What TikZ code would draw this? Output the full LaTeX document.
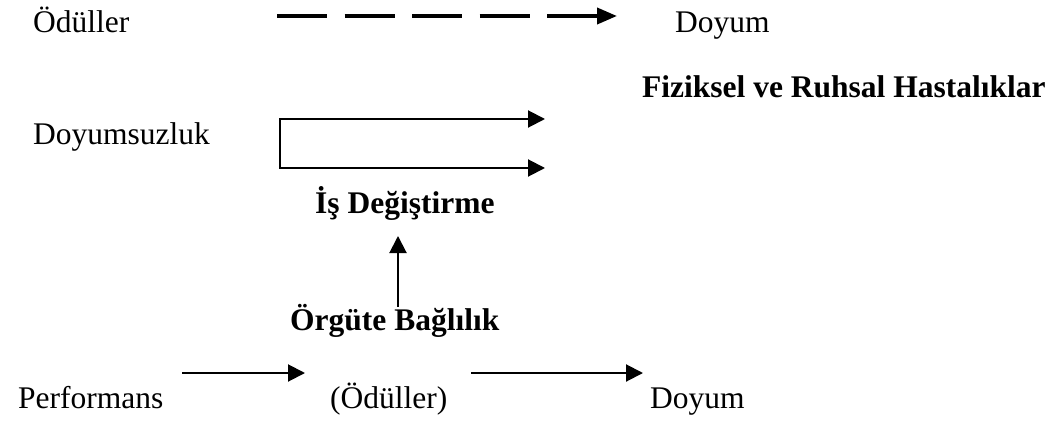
\documentclass[tikz,border=0pt]{standalone}
\usepackage{fontspec}
\setmainfont{Liberation Serif}
\usetikzlibrary{arrows.meta}
\begin{document}
\begin{tikzpicture}[x=1pt,y=-1pt,
  lbl/.style={anchor=base west,inner sep=0pt,font=\fontsize{31.5}{34}\selectfont},
  blbl/.style={anchor=base west,inner sep=0pt,font=\fontsize{31.5}{34}\selectfont\bfseries},
  tip/.style={Triangle[length=17pt,width=17pt]},
  arr/.style={line width=2pt,-{Triangle[length=17pt,width=17pt]}},
  darr/.style={line width=3.8pt,dash pattern=on 50pt off 17.5pt,-{Triangle[length=20pt,width=16pt]}}]
\useasboundingbox (0,0) rectangle (1056,422);
% top row
\node[lbl] (od1) at (33,33) {Ödüller};
\node[lbl] (doy1) at (675,33) {Doyum};
\coordinate (d1s) at (277,16);
\coordinate (d1e) at (617,16);
\draw[darr] (d1s) -- (d1e);
% Fiziksel
\node[blbl] (fiz) at (642,98) {Fiziksel ve Ruhsal Hastalıklar};
% Doyumsuzluk bracket
\node[lbl] (doys) at (33,145) {Doyumsuzluk};
\coordinate (bt) at (280,119);
\coordinate (bb) at (280,168);
\coordinate (bte) at (545,119);
\coordinate (bbe) at (545,168);
\draw[line width=2pt,miter limit=4,{Triangle[length=17pt,width=17pt]}-{Triangle[length=17pt,width=17pt]}] (bte) -- (bt) -- (bb) -- (bbe);
% middle
\node[blbl] (is) at (315,213) {İş Değiştirme};
\node[blbl] (org) at (290,330) {Örgüte Bağlılık};
\coordinate (va) at (398,307);
\coordinate (vb) at (398,236);
\draw[arr] (va) -- (vb);
% bottom row
\node[lbl] (perf) at (18,408) {Performans};
\node[lbl] (od2) at (330,408) {(Ödüller)};
\node[lbl] (doy2) at (650,408) {Doyum};
\coordinate (a1s) at (182,373);
\coordinate (a1e) at (305,373);
\coordinate (a2s) at (471,373);
\coordinate (a2e) at (643,373);
\draw[arr] (a1s) -- (a1e);
\draw[arr] (a2s) -- (a2e);
\end{tikzpicture}
\end{document}
